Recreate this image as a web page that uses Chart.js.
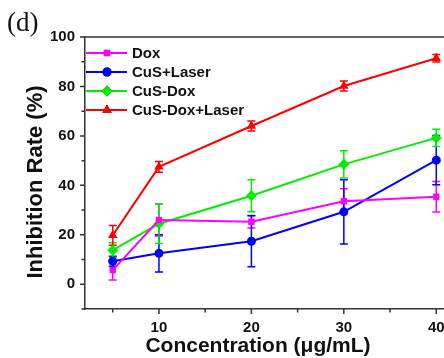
<!DOCTYPE html>
<html><head><meta charset="utf-8">
<script src="https://cdn.jsdelivr.net/npm/chart.js@4/dist/chart.umd.min.js"></script>
<style>
html,body{margin:0;padding:0;background:#fff;overflow:hidden;width:444px;height:358px}
#wrap{position:absolute;left:0;top:0;width:470px;height:358px}
</style></head><body>
<div id="wrap"><canvas id="c" width="470" height="358"></canvas></div>
<script>
const concentrations = [5, 10, 20, 30, 40];
const seriesLabels = ['Dox', 'CuS+Laser', 'CuS-Dox', 'CuS-Dox+Laser'];
const dox = [5.7, 26.0, 25.3, 33.6, 35.4];
const doxErr = [4.0, 6.5, 2.5, 5.0, 6.2];
const cusLaser = [9.3, 12.5, 17.4, 29.3, 50.2];
const cusLaserErr = [2.0, 7.5, 10.3, 13.0, 10.0];
const cusDox = [13.8, 24.5, 35.8, 48.5, 59.2];
const cusDoxErr = [3.0, 8.0, 6.5, 5.5, 3.5];
const cusDoxLaser = [19.8, 47.5, 64.0, 80.2, 91.4];
const cusDoxLaserErr = [4.0, 2.2, 2.0, 2.0, 1.5];
const xTickLabels = [10, 20, 30, 40];
const yTickLabels = [0, 20, 40, 60, 80, 100];
const xMinorTicks = [5, 15, 25, 35];
const yMinorTicks = [-10, 10, 30, 50, 70, 90];

const colors = ['#ff00ff', '#0000ff', '#00ee00', '#ff0000'];
const styles = ['rect', 'circle', 'rectRot', 'triangle'];
const values = [dox, cusLaser, cusDox, cusDoxLaser];
const errors = [doxErr, cusLaserErr, cusDoxErr, cusDoxLaserErr];
const FONT = '"Liberation Sans", Arial, sans-serif';

const datasets = values.map((v, i) => ({
  label: seriesLabels[i],
  data: concentrations.map((x, j) => ({x: x, y: v[j]})),
  errs: errors[i],
  borderColor: colors[i],
  backgroundColor: colors[i],
  pointStyle: styles[i],
  pointRadius: styles[i] === 'rectRot' ? 5.5 : (styles[i] === 'triangle' ? 5.5 : 4.5),
  pointBorderWidth: 0,
  borderWidth: 2,
  tension: 0,
  clip: false
}));

const decor = {
  id: 'decor',
  beforeDatasetsDraw(chart) {
    const ctx = chart.ctx, xs = chart.scales.x, ys = chart.scales.y;
    ctx.save();
    chart.data.datasets.forEach((ds) => {
      ctx.strokeStyle = ds.borderColor;
      ctx.lineWidth = 1.5;
      ds.data.forEach((p, j) => {
        const e = ds.errs[j];
        const px = xs.getPixelForValue(p.x);
        const y1 = ys.getPixelForValue(p.y + e), y2 = ys.getPixelForValue(p.y - e);
        ctx.beginPath();
        ctx.moveTo(px, y1); ctx.lineTo(px, y2);
        ctx.moveTo(px - 4, y1); ctx.lineTo(px + 4, y1);
        ctx.moveTo(px - 4, y2); ctx.lineTo(px + 4, y2);
        ctx.stroke();
      });
    });
    ctx.restore();
  },
  afterDraw(chart) {
    const ctx = chart.ctx, a = chart.chartArea, xs = chart.scales.x, ys = chart.scales.y;
    ctx.save();
    ctx.strokeStyle = '#333';
    ctx.lineWidth = 1.5;
    // top frame
    ctx.beginPath(); ctx.moveTo(a.left, a.top); ctx.lineTo(a.right + 10, a.top); ctx.stroke();
    // x ticks
    ctx.beginPath();
    xTickLabels.forEach(v => { const p = xs.getPixelForValue(v); ctx.moveTo(p, a.bottom); ctx.lineTo(p, a.bottom + 5); });
    xMinorTicks.forEach(v => { const p = xs.getPixelForValue(v); ctx.moveTo(p, a.bottom); ctx.lineTo(p, a.bottom + 3.5); });
    yTickLabels.forEach(v => { const p = ys.getPixelForValue(v); ctx.moveTo(a.left, p); ctx.lineTo(a.left - 5, p); });
    yMinorTicks.forEach(v => { const p = ys.getPixelForValue(v); ctx.moveTo(a.left, p); ctx.lineTo(a.left - 3.5, p); });
    ctx.stroke();
    // legend
    chart.data.datasets.forEach((ds, i) => {
      const y = a.top + 16 + i * 19;
      ctx.strokeStyle = ds.borderColor; ctx.lineWidth = 2;
      ctx.beginPath(); ctx.moveTo(a.left + 1, y); ctx.lineTo(a.left + 42, y); ctx.stroke();
      Chart.helpers.drawPoint(ctx, {pointStyle: ds.pointStyle, radius: ds.pointRadius, borderWidth: 0, rotation: 0}, a.left + 22, y);
      ctx.fillStyle = ds.borderColor; ctx.fill();
      ctx.fillStyle = '#111';
      ctx.font = 'bold 15px ' + FONT;
      ctx.textBaseline = 'middle'; ctx.textAlign = 'left';
      ctx.fillText(ds.label, a.left + 47, y + 1);
    });
    // panel letter
    ctx.fillStyle = '#111';
    ctx.font = '27px "Liberation Serif", "Times New Roman", serif';
    ctx.textBaseline = 'alphabetic'; ctx.textAlign = 'left';
    ctx.fillText('(d)', 7, 31);
    // axis titles
    ctx.font = 'bold 21px ' + FONT;
    ctx.textAlign = 'center'; ctx.textBaseline = 'middle';
    ctx.fillText('Concentration (\u03bcg/mL)', 258, 346);
    ctx.save();
    ctx.translate(36, 182); ctx.rotate(-Math.PI / 2);
    ctx.font = 'bold 22px ' + FONT;
    ctx.fillText('Inhibition Rate (%)', 0, 0);
    ctx.restore();
    ctx.restore();
  }
};

new Chart(document.getElementById('c'), {
  type: 'line',
  data: {datasets},
  options: {
    responsive: false,
    animation: false,
    events: [],
    layout: {padding: {left: 0, top: 37, right: 6, bottom: 0}},
    plugins: {legend: {display: false}, tooltip: {enabled: false}},
    scales: {
      x: {
        type: 'linear', min: 2, max: 43,
        afterFit(s) { s.height = 49; },
        afterBuildTicks(s) { s.ticks = xTickLabels.map(v => ({value: v})); },
        grid: {display: false, drawTicks: false},
        border: {display: true, color: '#333', width: 1.5},
        ticks: {color: '#111', font: {family: FONT, size: 15, weight: 'bold'}, padding: 10, maxRotation: 0}
      },
      y: {
        type: 'linear', min: -10, max: 100,
        afterFit(s) { s.width = 85; },
        afterBuildTicks(s) { s.ticks = yTickLabels.map(v => ({value: v})); },
        grid: {display: false, drawTicks: false},
        border: {display: true, color: '#333', width: 1.5},
        ticks: {color: '#111', font: {family: FONT, size: 15, weight: 'bold'}, padding: 10}
      }
    }
  },
  plugins: [decor]
});
</script>
</body></html>
